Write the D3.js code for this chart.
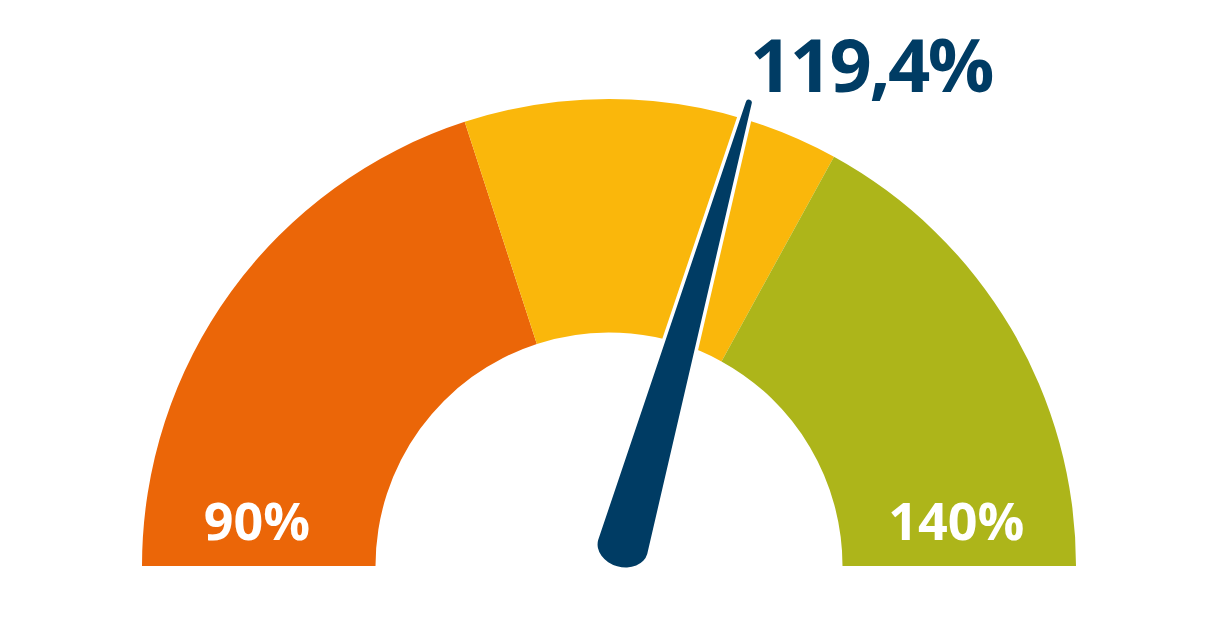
<!DOCTYPE html>
<html>
<head>
<meta charset="utf-8">
<script src="https://cdn.jsdelivr.net/npm/d3@7"></script>
<style>
  html, body { margin: 0; padding: 0; background: #ffffff; }
  svg { display: block; }
</style>
</head>
<body>
<svg id="chart" width="1218" height="640"></svg>
<script>
// ---- data ----
const bandStarts = [90, 110, 123];
const bandEnds   = [110, 123, 140];
const bandColors = ["#EB6608", "#FAB70B", "#ADB51A"];
const scaleMin = 90;
const scaleMax = 140;
const gaugeValue = 119.4;
const valueLabel = "119,4%";
const minLabel = "90%";
const maxLabel = "140%";

// ---- layout ----
const W = 1218, H = 640;
const cx = 609, cy = 566;
const rOuter = 467, rInner = 233.5;
const navy = "#003C64";
const font = "'Open Sans', 'Noto Sans', sans-serif";

const svg = d3.select("#chart");

const angle = d3.scaleLinear()
  .domain([scaleMin, scaleMax])
  .range([-Math.PI / 2, Math.PI / 2]);

const arc = d3.arc().innerRadius(rInner).outerRadius(rOuter);

const g = svg.append("g").attr("transform", `translate(${cx},${cy})`);

const bands = bandStarts.map((s, i) => ({ s, e: bandEnds[i], c: bandColors[i] }));

g.selectAll("path.band")
  .data(bands)
  .join("path")
  .attr("class", "band")
  .attr("d", d => arc({ startAngle: angle(d.s), endAngle: angle(d.e) }))
  .attr("fill", d => d.c);

// min / max labels near the baseline of the outer bands
const midR = (rInner + rOuter) / 2;
g.append("text")
  .attr("x", -midR - 55)
  .attr("y", -26)
  .attr("text-anchor", "start")
  .attr("font-family", font)
  .attr("font-weight", 700)
  .attr("font-size", 52)
  .attr("fill", "#ffffff")
  .text(minLabel);
g.append("text")
  .attr("x", midR - 71)
  .attr("y", -26)
  .attr("text-anchor", "start")
  .attr("font-family", font)
  .attr("font-weight", 700)
  .attr("font-size", 52)
  .attr("fill", "#ffffff")
  .text(maxLabel);

// needle (local frame pointing up, rotated by the value angle)
const ox = 8, tipY = -484, tipW = 3, baseY = -22, baseR = 25.5, capR = 20;
const needlePath = [
  `M${ox - tipW},${tipY}`,
  `A${tipW},${tipW} 0 0 1 ${ox + tipW},${tipY}`,
  `L${ox + baseR},${baseY}`,
  `A${baseR},${capR} 0 0 1 ${ox - baseR},${baseY}`,
  "Z"
].join(" ");

g.append("path")
  .attr("d", needlePath)
  .attr("transform", `rotate(${angle(gaugeValue) * 180 / Math.PI})`)
  .attr("fill", navy)
  .attr("stroke", "#ffffff")
  .attr("stroke-width", 7)
  .attr("stroke-linejoin", "round")
  .style("paint-order", "stroke");

// value label
svg.append("text")
  .attr("x", 750)
  .attr("y", 92)
  .attr("font-family", font)
  .attr("font-weight", 700)
  .attr("font-size", 74)
  .attr("letter-spacing", -2.5)
  .attr("fill", navy)
  .text(valueLabel);
</script>
</body>
</html>
